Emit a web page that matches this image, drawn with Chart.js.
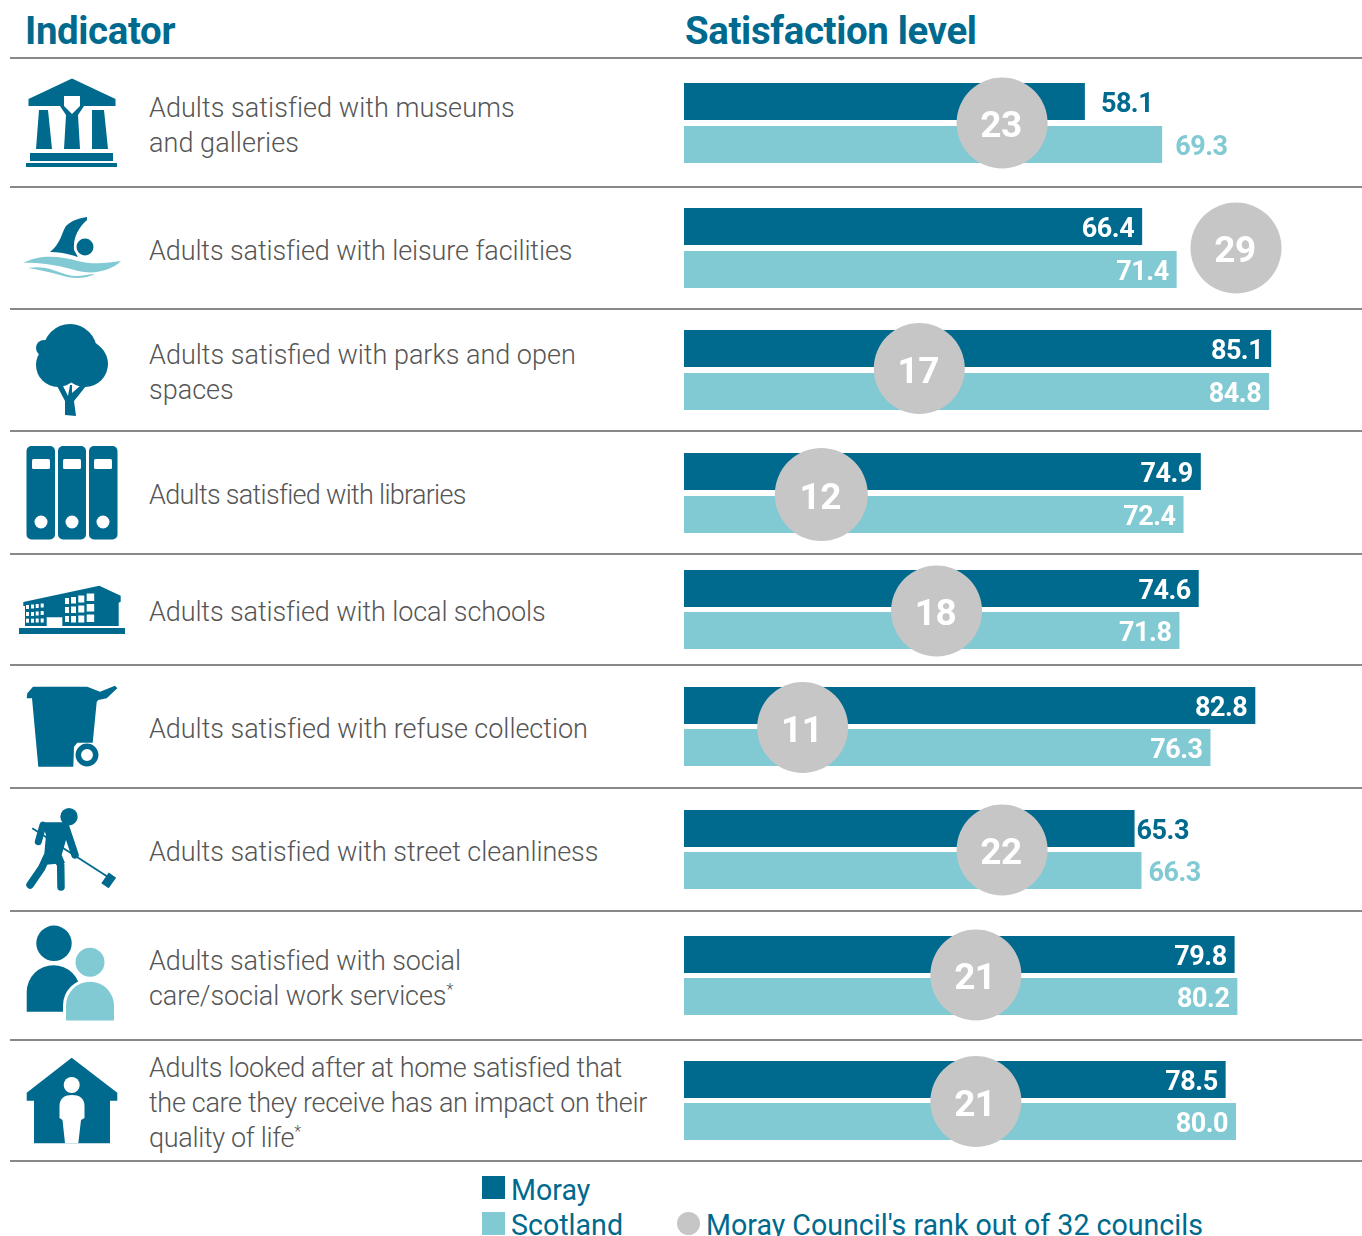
<!DOCTYPE html>
<html>
<head>
<meta charset="utf-8">
<title>Satisfaction level</title>
<script src="https://cdn.jsdelivr.net/npm/chart.js@4"></script>
<style>
  html, body { margin: 0; padding: 0; background: #fff; }
  body { position: relative; width: 1362px; height: 1236px; overflow: hidden; font-family: Roboto, sans-serif; }
  .head { position: absolute; top: 9px; font-size: 38.4px; font-weight: 700; line-height: 44px; color: #006a8e; letter-spacing: -0.35px; }
  .rule { position: absolute; left: 10px; right: 0; height: 2px; background: #888; }
  .label { position: absolute; left: 149px; width: 510px; display: flex; align-items: center; font-size: 27px; font-weight: 300; line-height: 35px; color: #555; white-space: pre; }
  .label sup { font-size: 16px; line-height: 0; }
  .rowChart { position: absolute; left: 684px; }
  #icons { position: absolute; left: 0; top: 0; }
  .swatch { position: absolute; width: 23px; height: 23px; }
  .legend { position: absolute; font-size: 30px; line-height: 36px; color: #006a8e; transform: scaleX(0.953); transform-origin: left center; white-space: nowrap; }
</style>
</head>
<body>
<div class="head" style="left:25px">Indicator</div>
<div class="head" style="left:685px">Satisfaction level</div>

<svg id="icons" width="1362" height="1236" viewBox="0 0 1362 1236" fill="#006a8e">
  <!-- museum -->
  <path d="M72 78.5 115.5 99v7H28.5v-7z"/>
  <path d="M39 110h9l4 39H36zM92 110h12l4 39H92zM60 106h24l-6 9 2 34H64l2-34z"/>
  <path d="M64 96h16v10l-8 8-8-8z" fill="#fff"/>
  <rect x="30" y="153" width="83" height="8"/><rect x="26" y="163" width="91" height="4"/>
  <!-- swimmer -->
  <path d="M50 252C60 245 62 232 66 226 72 220 80 218 87 217v3C78 228 73 238 74 250l4 7C68 254 60 252 50 252z"/>
  <circle cx="85" cy="247" r="8.5"/>
  <path d="M23 263C40 254 60 256 78 261 92 265 108 263 121 261 112 270 95 275 78 271 60 266 42 262 23 263z" fill="#82cad3"/>
  <path d="M28 268C45 265 55 271 68 275 78 278 88 274 95 274 85 279 72 279 60 275 50 272 40 270 28 268z" fill="#82cad3"/>
  <!-- tree -->
  <circle cx="70" cy="351" r="27"/><circle cx="44" cy="348" r="8"/><circle cx="58" cy="365" r="22"/>
  <circle cx="85" cy="364" r="23"/><circle cx="88" cy="355" r="14"/>
  <path d="M56 384h6l6 12 2-11h2v8l9-8 5 1-12 15 2 15-11-1v-14z"/>
  <!-- binders -->
  <rect x="26.5" y="446" width="28.5" height="93.5" rx="5"/><rect x="58" y="446" width="28" height="93.5" rx="5"/><rect x="89" y="446" width="28.5" height="93.5" rx="5"/>
  <g fill="#fff">
    <rect x="32" y="459" width="18" height="10" rx="1.5"/><rect x="63" y="459" width="18" height="10" rx="1.5"/><rect x="94" y="459" width="18" height="10" rx="1.5"/>
    <circle cx="41" cy="522" r="6.5"/><circle cx="72" cy="522" r="6.5"/><circle cx="103" cy="522" r="6.5"/>
  </g>
  <!-- school -->
  <path d="M23.3 602 99.3 585.7l21.4 10v6l-2 1V626H62.3v-8.7H46.7V626H25v-20h-1.7z"/>
  <rect x="19" y="628" width="106" height="6"/>
  <g fill="#fff">
    <rect x="26" y="605" width="3" height="4"/><rect x="31" y="604.5" width="3" height="4"/><rect x="35.7" y="604" width="3" height="4"/><rect x="40.7" y="603.5" width="3" height="4"/>
    <rect x="26" y="612" width="3" height="4"/><rect x="31" y="612" width="3" height="4"/><rect x="35.7" y="611.5" width="3" height="4"/><rect x="40.7" y="611" width="3" height="4"/>
    <rect x="26" y="618.7" width="3" height="4"/><rect x="31" y="618.7" width="3" height="4"/><rect x="35.7" y="618.5" width="3" height="4"/><rect x="40.7" y="618.5" width="3" height="4"/>
    <rect x="65" y="598" width="4" height="6"/><rect x="71" y="597" width="5" height="6.5"/><rect x="78.3" y="595.5" width="6" height="7"/><rect x="86.7" y="593.5" width="7.5" height="7.5"/>
    <rect x="65" y="607" width="4" height="6"/><rect x="71" y="606.5" width="5" height="6.5"/><rect x="78.3" y="605.5" width="6" height="7"/><rect x="86.7" y="604" width="7.5" height="7.5"/>
    <rect x="65" y="616" width="4" height="6"/><rect x="71" y="616" width="5" height="6.5"/><rect x="78.3" y="615.5" width="6" height="7"/><rect x="86.7" y="614.5" width="7.5" height="7.5"/>
  </g>
  <!-- bin -->
  <path d="M27.3 693.3 33 686.7H87.3L100 691.7 115 685.7 117.3 688.3 106.7 698.3 98.3 700 96.7 702 92.7 742.7H77.3L74 746.7 73.3 766.7H38.3L32 698.3H26.7z"/>
  <circle cx="87" cy="755" r="8.7" fill="#fff" stroke="#006a8e" stroke-width="5.5"/>
  <!-- sweeper -->
  <circle cx="69" cy="816.7" r="8.7"/>
  <path d="M41.7 822.3H63.3L68 833 61.7 855 65 863 43.3 865 46 835z"/>
  <g fill="none" stroke="#006a8e" stroke-linecap="round" stroke-linejoin="round">
    <path d="M43 825 38.3 841.7" stroke-width="7"/>
    <path d="M65 825 75 855" stroke-width="7.5"/>
    <path d="M46.7 857 41.7 868 30 885" stroke-width="7.5"/>
    <path d="M56.7 858 60.7 865 61 887" stroke-width="7.5"/>
    <path d="M32.3 828.3 110 878.3" stroke-width="1.8" stroke-linecap="butt"/>
  </g>
  <rect x="-7" y="-4.5" width="13" height="9" transform="translate(109 880) rotate(-55)"/>
  <!-- people -->
  <circle cx="54" cy="943.3" r="17.7"/>
  <path d="M26.7 1011.7V992a26.8 26.8 0 0 1 53.6 0v19.7z"/>
  <circle cx="90" cy="962.3" r="15.5" fill="#82cad3" stroke="#fff" stroke-width="2"/>
  <path d="M66 1020.7V1005.7a24 24 0 0 1 48 0v15z" fill="#82cad3" stroke="#fff" stroke-width="6" paint-order="stroke"/>
  <rect x="60" y="1020.7" width="60" height="5" fill="#fff"/>
  <!-- house -->
  <path d="M71.7 1057.7 117.3 1092.7v8H110v42.6H34v-42.6H26.7v-8z"/>
  <circle cx="71.7" cy="1085" r="8" fill="#fff"/>
  <path d="M59.5 1106C59.5 1098 65 1095 72 1095 79 1095 84.5 1098 84.5 1106V1118L81 1120 78.3 1143.3H65L62.5 1120 59.5 1118z" fill="#fff"/>
</svg>

<div class="swatch" style="left:482px;top:1176px;background:#006a8e"></div>
<div class="swatch" style="left:482px;top:1212px;background:#82cad3"></div>
<div class="swatch" style="left:677px;top:1212px;border-radius:50%;background:#c6c6c6"></div>
<div class="legend" style="left:511px;top:1172px">Moray</div>
<div class="legend" style="left:511px;top:1207px">Scotland</div>
<div class="legend" style="left:706px;top:1207px">Moray Council's rank out of 32 councils</div>

<script>
const categories = [
  'Adults satisfied with museums\nand galleries',
  'Adults satisfied with leisure facilities',
  'Adults satisfied with parks and open\nspaces',
  'Adults satisfied with libraries',
  'Adults satisfied with local schools',
  'Adults satisfied with refuse collection',
  'Adults satisfied with street cleanliness',
  'Adults satisfied with social\ncare/social work services*',
  'Adults looked after at home satisfied that\nthe care they receive has an impact on their\nquality of life*'
];
const seriesNames = ['Moray', 'Scotland'];
const moray = [58.1, 66.4, 85.1, 74.9, 74.6, 82.8, 65.3, 79.8, 78.5];
const scotland = [69.3, 71.4, 84.8, 72.4, 71.8, 76.3, 66.3, 80.2, 80.0];
const ranks = [23, 29, 17, 12, 18, 11, 22, 21, 21];
// where each rank badge sits along the value axis
const rankAnchor = [46.1, 80.0, 34.1, 19.9, 36.6, 17.2, 46.1, 42.3, 42.3];

const DARK = '#006a8e';
const LIGHT = '#82cad3';
const GREY = '#c6c6c6';
const PX_PER_UNIT = 6.9;
const CHART_W = 678;
const CHART_H = 114;
const BAR_H = 37;
const PAD = 14;

// page layout of the rows
const rules = [58, 187, 309, 431, 554, 665, 788, 911, 1040, 1161];
const barTops = [83, 208, 330, 453, 570, 687, 810, 936, 1061];
const plotHeights = [86, 86, 86, 86, 84, 84, 84, 84, 84];
const rankNudge = [0, 0, -1.5, 1.5, 1.5, 1, 0.5, -0.5, 1];
const rankRadius = [45.5, 45.5, 45.5, 46.5, 45.5, 45.5, 45.5, 45.5, 45.5];
const labelTracking = [0.05, -0.1, 0, -0.7, -0.1, -0.03, -0.05, -0.1, -0.32];
// rows whose values sit outside the bars, gap in px
const outsideGap = { 0: [16, 13], 6: [2, 7] };

rules.forEach(y => {
  const r = document.createElement('div');
  r.className = 'rule';
  r.style.top = (y - 1) + 'px';
  document.body.appendChild(r);
});

const valueLabels = {
  id: 'valueLabels',
  afterDatasetsDraw(chart, args, opts) {
    const ctx = chart.ctx;
    const row = opts.row;
    ctx.save();
    ctx.textBaseline = 'middle';
    ctx.font = '700 27px Roboto';
    try { ctx.letterSpacing = '-0.5px'; } catch (e) {}
    chart.getDatasetMeta(0).data.forEach((bar, d) => {
      const text = chart.data.datasets[0].data[d].toFixed(1);
      const out = outsideGap[row];
      if (out) {
        ctx.textAlign = 'left';
        ctx.fillStyle = d === 0 ? DARK : LIGHT;
        ctx.fillText(text, bar.x + out[d], bar.y + 4);
      } else {
        ctx.textAlign = 'right';
        ctx.fillStyle = '#fff';
        ctx.fillText(text, bar.x - 8, bar.y + 4);
      }
    });
    const pt = chart.getDatasetMeta(1).data[0];
    ctx.textAlign = 'center';
    ctx.font = '700 37px Roboto';
    ctx.fillStyle = '#fff';
    ctx.fillText(String(ranks[row]), pt.x - 1, pt.y + 5);
    ctx.restore();
  }
};

categories.forEach((cat, i) => {
  const label = document.createElement('div');
  label.className = 'label';
  label.style.top = (rules[i] + 1) + 'px';
  label.style.height = (rules[i + 1] - rules[i] + 4) + 'px';
  label.style.letterSpacing = labelTracking[i] + 'px';
  const span = document.createElement('span');
  span.innerHTML = cat.replace('*', '<sup>*</sup>');
  label.appendChild(span);
  document.body.appendChild(label);

  const plotH = plotHeights[i];
  // keeps the bar edges on whole pixels for the tighter rows
  const padTop = PAD + (86 - plotH) / 4;

  const canvas = document.createElement('canvas');
  canvas.className = 'rowChart';
  canvas.width = CHART_W;
  canvas.height = CHART_H;
  canvas.style.top = (barTops[i] - 3 - PAD) + 'px';
  document.body.appendChild(canvas);

  new Chart(canvas.getContext('2d'), {
    type: 'bar',
    data: {
      labels: seriesNames,
      datasets: [
        // horizontal on the dataset only, a second y axis at chart level halves the bars
        { indexAxis: 'y', label: cat, data: [moray[i], scotland[i]], backgroundColor: [DARK, LIGHT], order: 2 },
        {
          type: 'scatter',
          indexAxis: 'x',
          label: "Moray Council's rank out of 32 councils",
          data: [{ x: rankAnchor[i], y: rankNudge[i] }],
          yAxisID: 'yRank',
          backgroundColor: GREY,
          borderWidth: 0,
          pointRadius: rankRadius[i],
          clip: false,
          order: 1
        }
      ]
    },
    options: {
      indexAxis: 'x',
      responsive: false,
      animation: false,
      events: [],
      // no room reserved for the big badges
      layout: { autoPadding: false, padding: { top: padTop, bottom: CHART_H - padTop - plotH, left: 0, right: 0 } },
      datasets: { bar: { categoryPercentage: 1, barPercentage: BAR_H / (plotH / 2) } },
      scales: {
        x: { type: 'linear', display: false, offset: false, min: 0, max: CHART_W / PX_PER_UNIT },
        y: { type: 'category', display: false, offset: true },
        yRank: { type: 'linear', display: false, min: -plotH / 2, max: plotH / 2, reverse: true }
      },
      plugins: {
        legend: { display: false },
        tooltip: { enabled: false },
        valueLabels: { row: i }
      }
    },
    plugins: [valueLabels]
  });
});
</script>
</body>
</html>
